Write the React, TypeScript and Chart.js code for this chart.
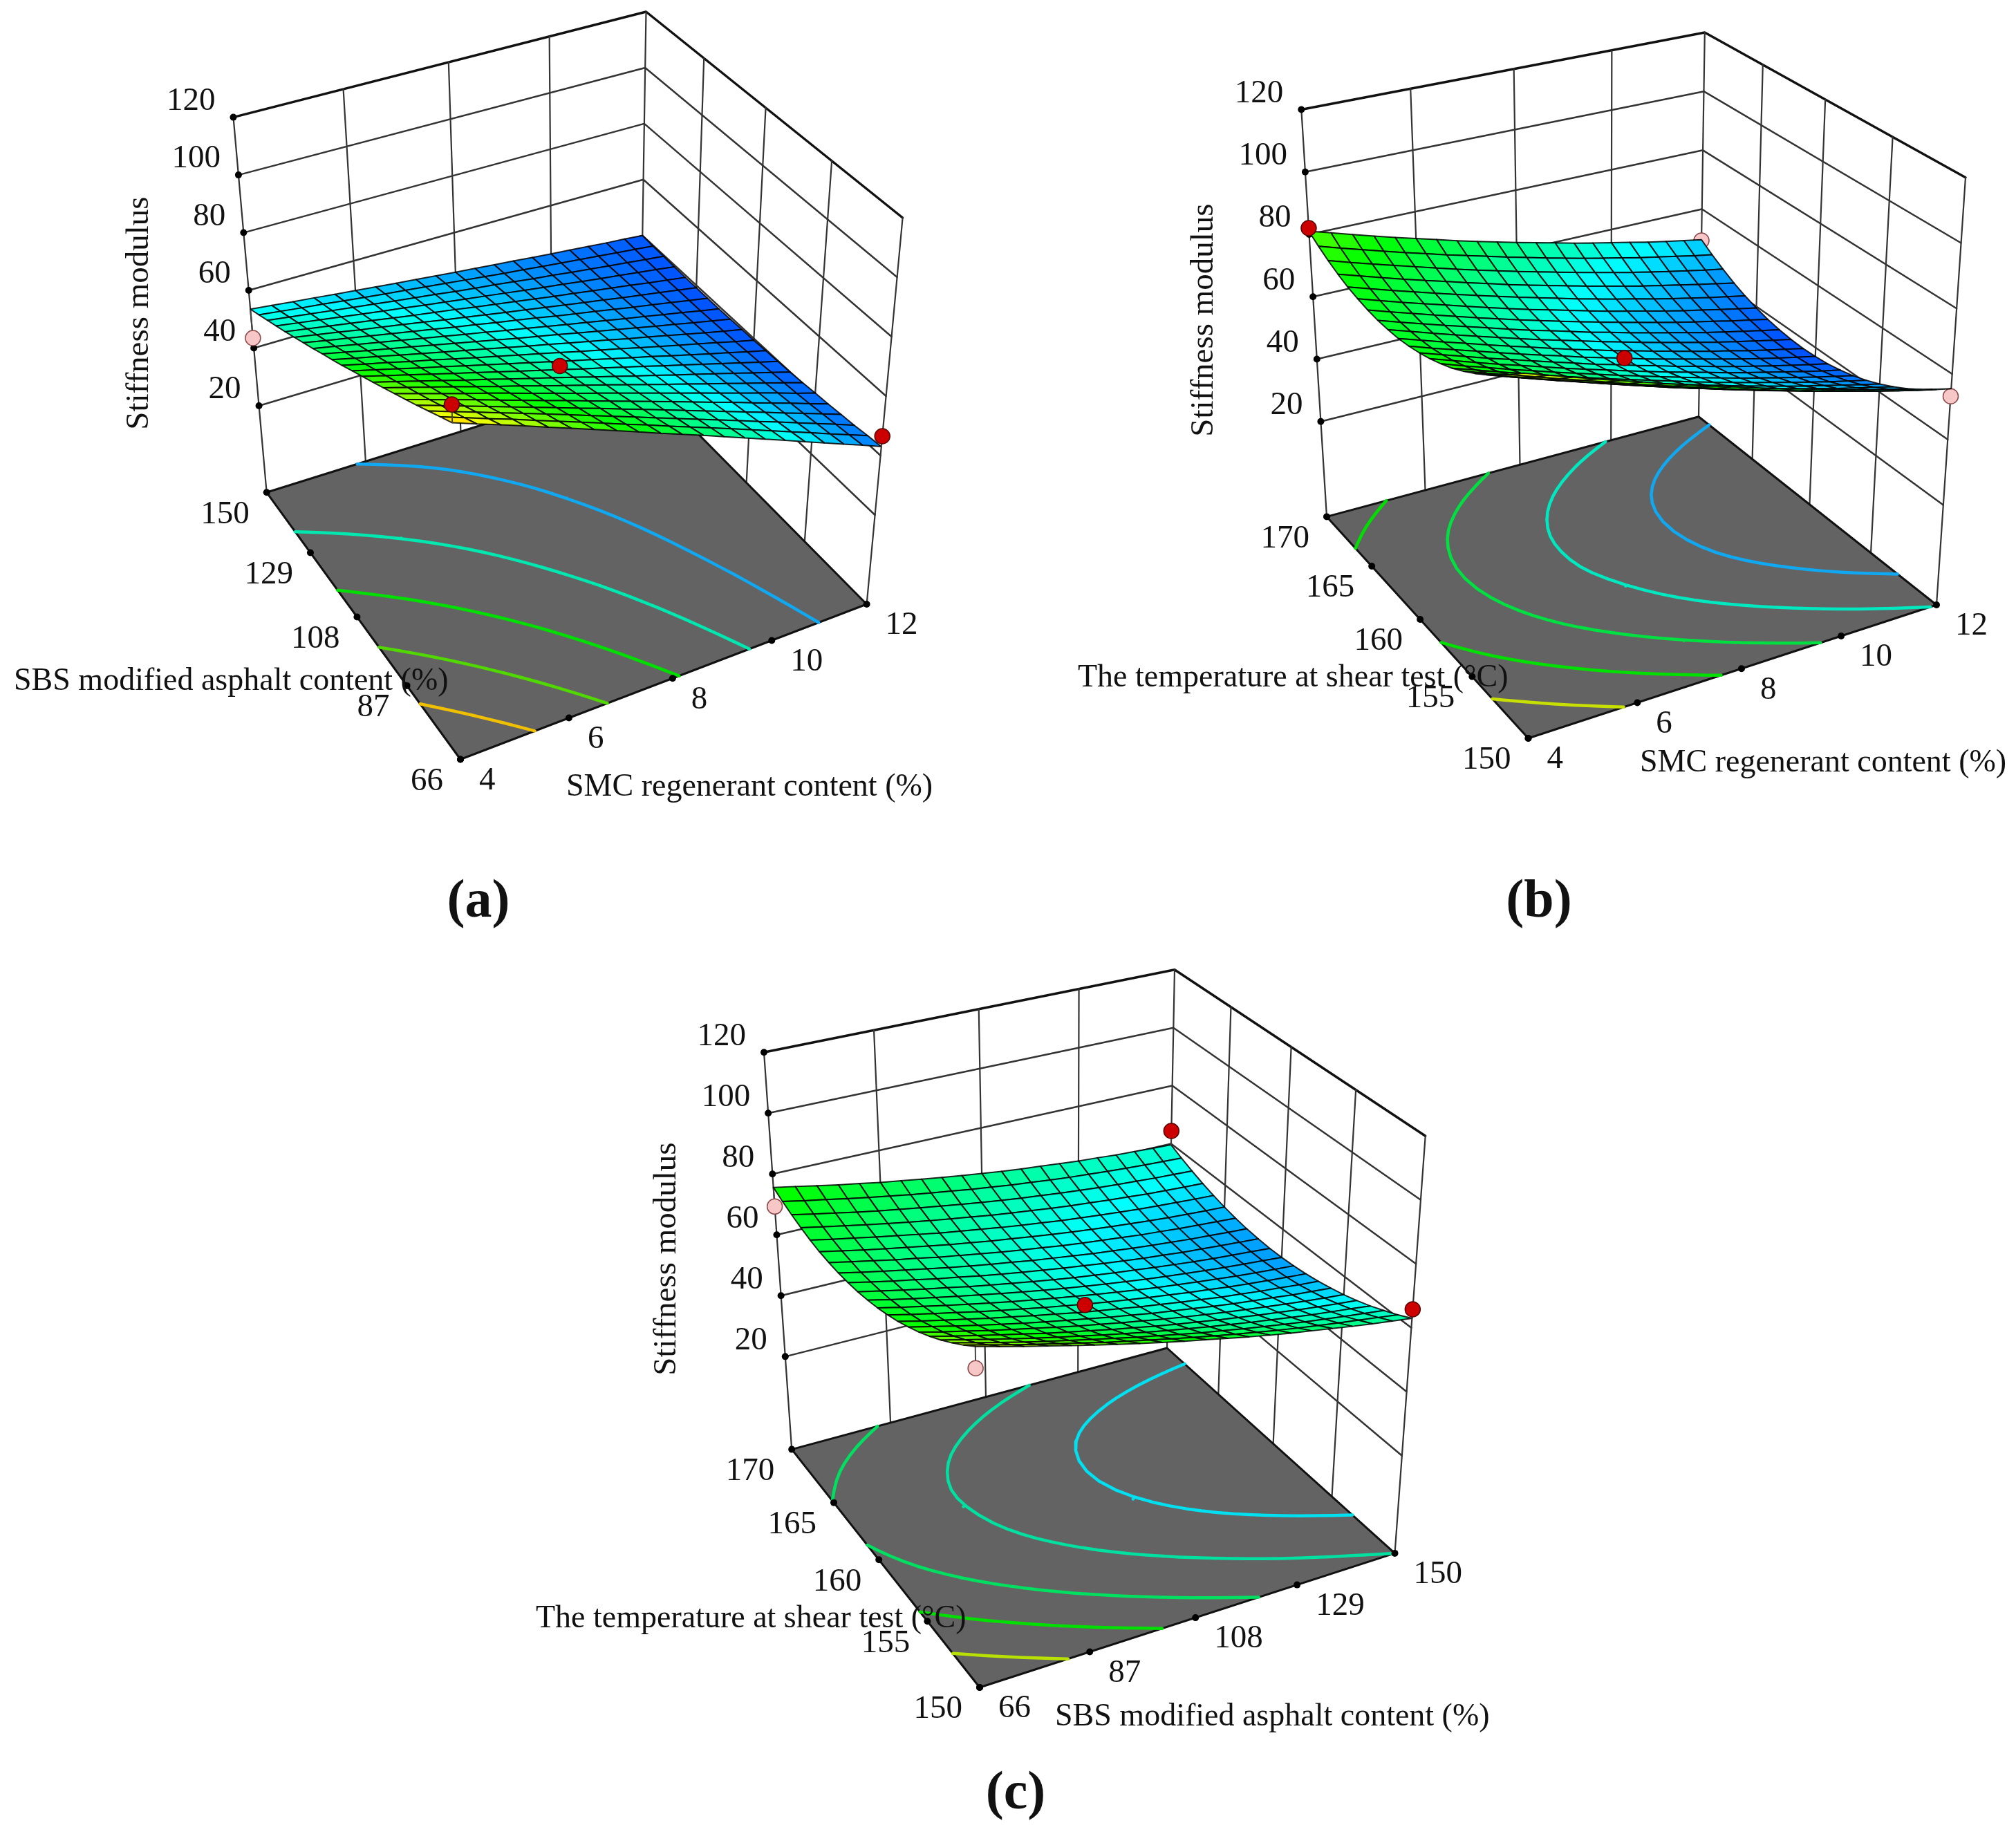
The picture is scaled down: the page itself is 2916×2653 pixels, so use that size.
import React, { useEffect, useRef } from "react";
import Chart from "chart.js/auto";

// ---------- axis ticks and labels ----------
const zTicks = [20, 40, 60, 80, 100, 120];
const smcTicks = [4, 6, 8, 10, 12];
const sbsTicks = [66, 87, 108, 129, 150];
const tempTicks = [150, 155, 160, 165, 170];
const zTitle = "Stiffness modulus";
const smcTitle = "SMC regenerant content (%)";
const sbsTitle = "SBS modified asphalt content (%)";
const tempTitle = "The temperature at shear test (°C)";

// ---------- surfaces: rows run along the depth factor, columns along the width factor ----------
const surfaceA = [
[100,97.0,94.1,91.2,88.2,85.3,82.4,79.5,76.6,73.7,70.9,68.1,65.2,62.4,59.6,56.8,54.0,51.2,48.5,45.8,43.0],
[97.3,94.4,91.5,88.8,85.9,83.1,80.3,77.5,74.7,72.0,69.2,66.5,63.8,61.1,58.4,55.7,53.0,50.4,47.7,45.1,42.5],
[94.6,91.8,89.1,86.4,83.7,81.0,78.3,75.6,72.9,70.3,67.6,65.0,62.4,59.8,57.2,54.6,52.1,49.5,47.0,44.5,41.9],
[91.9,89.3,86.6,84.0,81.4,78.8,76.3,73.7,71.2,68.6,66.1,63.6,61.1,58.6,56.1,53.6,51.2,48.7,46.3,43.9,41.5],
[89.3,86.8,84.3,81.8,79.3,76.8,74.3,71.9,69.4,67.0,64.6,62.2,59.8,57.4,55.0,52.7,50.3,48.0,45.7,43.3,41.0],
[86.8,84.4,81.9,79.5,77.2,74.8,72.4,70.1,67.7,65.4,63.1,60.8,58.5,56.2,54.0,51.7,49.5,47.3,45.1,42.8,40.7],
[84.3,82.0,79.7,77.4,75.1,72.8,70.6,68.3,66.1,63.9,61.7,59.5,57.3,55.1,53.0,50.8,48.7,46.6,44.5,42.4,40.3],
[81.8,79.6,77.4,75.2,73.0,70.9,68.7,66.6,64.5,62.4,60.3,58.2,56.1,54.1,52.0,50.0,48.0,46.0,44.0,42.0,40.0],
[79.4,77.3,75.2,73.1,71.0,69.0,66.9,64.9,62.9,60.9,58.9,57.0,55.0,53.1,51.1,49.2,47.3,45.4,43.5,41.6,39.8],
[77.0,75.0,73.0,71.0,69.1,67.1,65.2,63.3,61.4,59.5,57.6,55.8,53.9,52.1,50.3,48.4,46.6,44.8,43.1,41.3,39.6],
[74.6,72.7,70.9,69.0,67.2,65.3,63.5,61.7,59.9,58.2,56.4,54.6,52.9,51.2,49.4,47.7,46.0,44.4,42.7,41.0,39.4],
[72.3,70.5,68.8,67.0,65.3,63.6,61.9,60.2,58.5,56.8,55.2,53.5,51.9,50.3,48.6,47.1,45.5,43.9,42.3,40.8,39.3],
[70.1,68.4,66.7,65.1,63.5,61.9,60.3,58.7,57.1,55.5,54.0,52.5,50.9,49.4,47.9,46.4,44.9,43.5,42.0,40.6,39.2],
[67.8,66.3,64.7,63.2,61.7,60.2,58.7,57.2,55.8,54.3,52.9,51.4,50.0,48.6,47.2,45.8,44.5,43.1,41.8,40.4,39.1],
[65.7,64.2,62.8,61.4,60.0,58.6,57.2,55.8,54.5,53.1,51.8,50.5,49.1,47.8,46.6,45.3,44.0,42.8,41.6,40.3,39.1],
[63.5,62.2,60.9,59.5,58.3,57.0,55.7,54.4,53.2,51.9,50.7,49.5,48.3,47.1,45.9,44.8,43.6,42.5,41.4,40.3,39.2],
[61.4,60.2,59.0,57.8,56.6,55.4,54.2,53.1,52.0,50.8,49.7,48.6,47.5,46.4,45.4,44.3,43.3,42.3,41.2,40.2,39.2],
[59.4,58.3,57.2,56.1,55.0,53.9,52.9,51.8,50.8,49.8,48.8,47.8,46.8,45.8,44.9,43.9,43.0,42.1,41.2,40.3,39.4],
[57.4,56.4,55.4,54.4,53.4,52.5,51.5,50.6,49.7,48.7,47.8,47.0,46.1,45.2,44.4,43.5,42.7,41.9,41.1,40.3,39.6],
[55.4,54.5,53.6,52.8,51.9,51.0,50.2,49.4,48.6,47.8,47.0,46.2,45.4,44.7,43.9,43.2,42.5,41.8,41.1,40.4,39.7],
[53.5,52.7,51.9,51.2,50.4,49.7,48.9,48.2,47.5,46.8,46.1,45.5,44.8,44.2,43.5,42.9,42.3,41.7,41.1,40.6,40.0],
];
const surfaceB = [
[95.4,92.9,90.5,88.1,85.8,83.6,81.3,79.2,77.0,75.0,73.0,71.0,69.1,67.2,65.4,63.6,61.9,60.2,58.6,57.0,55.5],
[91.8,89.3,86.9,84.6,82.3,80.0,77.8,75.7,73.6,71.5,69.5,67.6,65.7,63.8,62.0,60.3,58.6,56.9,55.3,53.8,52.3],
[88.4,86.0,83.6,81.3,79.0,76.8,74.6,72.5,70.4,68.4,66.4,64.5,62.6,60.8,59.0,57.3,55.6,54.0,52.4,50.9,49.4],
[85.4,83.0,80.6,78.3,76.1,73.9,71.7,69.6,67.5,65.5,63.6,61.7,59.8,58.0,56.3,54.6,52.9,51.3,49.7,48.2,46.8],
[82.7,80.3,77.9,75.7,73.4,71.2,69.1,67.0,65.0,63.0,61.1,59.2,57.3,55.6,53.8,52.1,50.5,48.9,47.4,45.9,44.5],
[80.3,77.9,75.6,73.3,71.1,68.9,66.8,64.8,62.7,60.8,58.9,57.0,55.2,53.4,51.7,50.0,48.4,46.9,45.4,43.9,42.5],
[78.1,75.8,73.5,71.3,69.1,66.9,64.8,62.8,60.8,58.9,57.0,55.1,53.3,51.6,49.9,48.3,46.7,45.1,43.6,42.2,40.8],
[76.4,74.0,71.8,69.5,67.4,65.2,63.2,61.2,59.2,57.3,55.4,53.6,51.8,50.1,48.4,46.8,45.2,43.7,42.2,40.8,39.4],
[74.9,72.6,70.3,68.1,66.0,63.9,61.8,59.8,57.9,56.0,54.1,52.3,50.6,48.9,47.2,45.6,44.1,42.6,41.1,39.7,38.4],
[73.7,71.4,69.2,67.0,64.9,62.8,60.8,58.8,56.8,55.0,53.1,51.4,49.6,48.0,46.3,44.7,43.2,41.7,40.3,38.9,37.6],
[72.8,70.5,68.3,66.2,64.1,62.0,60.0,58.1,56.1,54.3,52.5,50.7,49.0,47.4,45.8,44.2,42.7,41.2,39.8,38.5,37.2],
[72.2,70.0,67.8,65.7,63.6,61.6,59.6,57.6,55.7,53.9,52.1,50.4,48.7,47.1,45.5,43.9,42.5,41.0,39.6,38.3,37.0],
[72.0,69.8,67.6,65.5,63.4,61.4,59.4,57.5,55.7,53.9,52.1,50.4,48.7,47.1,45.5,44.0,42.5,41.1,39.8,38.5,37.2],
[72.0,69.8,67.7,65.6,63.6,61.6,59.6,57.7,55.9,54.1,52.3,50.7,49.0,47.4,45.9,44.4,42.9,41.5,40.2,38.9,37.7],
[72.4,70.2,68.1,66.0,64.0,62.0,60.1,58.2,56.4,54.6,52.9,51.2,49.6,48.0,46.5,45.0,43.6,42.3,40.9,39.7,38.4],
[73.1,70.9,68.8,66.8,64.8,62.8,60.9,59.0,57.2,55.5,53.8,52.1,50.5,49.0,47.5,46.0,44.6,43.3,42.0,40.7,39.5],
[74.0,71.9,69.8,67.8,65.8,63.9,62.0,60.2,58.4,56.7,55.0,53.3,51.8,50.2,48.8,47.3,45.9,44.6,43.3,42.1,40.9],
[75.3,73.2,71.1,69.1,67.2,65.3,63.4,61.6,59.8,58.1,56.5,54.9,53.3,51.8,50.3,48.9,47.6,46.3,45.0,43.8,42.6],
[76.9,74.8,72.8,70.8,68.9,67.0,65.1,63.3,61.6,59.9,58.3,56.7,55.2,53.7,52.2,50.8,49.5,48.2,47.0,45.8,44.7],
[78.8,76.7,74.7,72.7,70.8,69.0,67.1,65.4,63.7,62.0,60.4,58.8,57.3,55.8,54.4,53.1,51.7,50.5,49.3,48.1,47.0],
[81.0,79.0,77.0,75.0,73.1,71.3,69.5,67.7,66.0,64.4,62.8,61.3,59.8,58.3,56.9,55.6,54.3,53.0,51.8,50.7,49.6],
];
const surfaceC = [
[91.5,89.5,87.6,85.8,84.0,82.2,80.5,78.9,77.3,75.8,74.4,73.0,71.6,70.3,69.1,68.0,66.9,65.8,64.8,63.9,63.0],
[88.3,86.4,84.5,82.7,81.0,79.3,77.6,76.1,74.6,73.1,71.7,70.3,69.0,67.8,66.6,65.5,64.5,63.5,62.6,61.7,60.8],
[85.4,83.5,81.7,79.9,78.2,76.6,75.0,73.5,72.0,70.6,69.2,67.9,66.7,65.5,64.4,63.3,62.3,61.4,60.5,59.7,58.9],
[82.7,80.9,79.1,77.4,75.7,74.1,72.6,71.1,69.7,68.3,67.0,65.8,64.6,63.5,62.4,61.4,60.4,59.5,58.7,57.9,57.1],
[80.3,78.5,76.8,75.1,73.5,71.9,70.4,69.0,67.6,66.3,65.0,63.8,62.7,61.6,60.6,59.6,58.7,57.8,57.0,56.3,55.6],
[78.1,76.3,74.7,73.0,71.5,70.0,68.5,67.1,65.8,64.5,63.3,62.1,61.0,60.0,59.0,58.1,57.2,56.4,55.6,54.9,54.3],
[76.2,74.5,72.8,71.2,69.7,68.2,66.8,65.5,64.2,62.9,61.8,60.6,59.6,58.6,57.6,56.7,55.9,55.2,54.4,53.8,53.2],
[74.5,72.8,71.2,69.7,68.2,66.8,65.4,64.1,62.8,61.6,60.5,59.4,58.4,57.4,56.5,55.6,54.9,54.1,53.5,52.8,52.3],
[73.1,71.4,69.9,68.4,66.9,65.5,64.2,62.9,61.7,60.5,59.4,58.4,57.4,56.5,55.6,54.8,54.0,53.3,52.7,52.1,51.6],
[71.9,70.3,68.8,67.3,65.9,64.5,63.2,62.0,60.8,59.7,58.6,57.6,56.6,55.7,54.9,54.1,53.4,52.7,52.1,51.6,51.1],
[71.0,69.4,67.9,66.5,65.1,63.8,62.5,61.3,60.1,59.0,58.0,57.0,56.1,55.2,54.4,53.7,53.0,52.4,51.8,51.3,50.8],
[70.3,68.8,67.3,65.9,64.6,63.2,62.0,60.8,59.7,58.6,57.6,56.7,55.8,55.0,54.2,53.5,52.8,52.2,51.7,51.2,50.7],
[69.9,68.4,66.9,65.6,64.2,63.0,61.7,60.6,59.5,58.5,57.5,56.6,55.7,54.9,54.1,53.5,52.8,52.3,51.8,51.3,50.9],
[69.7,68.2,66.8,65.5,64.2,62.9,61.7,60.6,59.6,58.5,57.6,56.7,55.8,55.1,54.3,53.7,53.1,52.5,52.1,51.6,51.2],
[69.8,68.4,67.0,65.6,64.4,63.1,62.0,60.9,59.8,58.8,57.9,57.0,56.2,55.5,54.8,54.1,53.6,53.0,52.6,52.2,51.8],
[70.1,68.7,67.3,66.0,64.8,63.6,62.4,61.4,60.3,59.4,58.5,57.6,56.8,56.1,55.4,54.8,54.2,53.7,53.3,52.9,52.6],
[70.7,69.3,68.0,66.7,65.5,64.3,63.1,62.1,61.1,60.1,59.2,58.4,57.6,56.9,56.3,55.7,55.1,54.7,54.3,53.9,53.6],
[71.6,70.2,68.9,67.6,66.4,65.2,64.1,63.1,62.1,61.1,60.3,59.5,58.7,58.0,57.4,56.8,56.3,55.8,55.4,55.1,54.8],
[72.7,71.3,70.0,68.7,67.5,66.4,65.3,64.3,63.3,62.4,61.5,60.7,60.0,59.3,58.7,58.1,57.6,57.2,56.8,56.5,56.2],
[74.0,72.6,71.4,70.1,68.9,67.8,66.7,65.7,64.8,63.8,63.0,62.2,61.5,60.8,60.2,59.7,59.2,58.8,58.4,58.1,57.8],
[75.6,74.3,73.0,71.7,70.6,69.4,68.4,67.4,66.4,65.5,64.7,63.9,63.2,62.6,62.0,61.4,61.0,60.5,60.2,59.9,59.6],
];

// contour levels drawn on the floor
const levelsA = [90, 80, 70, 60, 50];
const levelsB = [85, 75, 65.5, 56, 47];
const levelsC = [84, 76.7, 70.2, 63, 56.6];

// design points: [x value, depth value, response]
const pointsAboveA = [[8, 108, 51.8], [4, 66, 106], [12, 66, 46.5]];
const pointsBelowA = [[4, 150, 43.5]];
const pointsAboveB = [[4, 170, 82], [8, 160, 52.6]];
const pointsBelowB = [[12, 170, 49.3], [12, 150, 53.2]];
const pointsAboveC = [[150, 170, 64.4], [150, 150, 65.8], [108, 160, 52]];
const pointsBelowC = [[66, 170, 69.3], [66, 150, 85]];

// ---------- layout and styles ----------
const W = 2916, H = 2653;
const SERIF = '"Liberation Serif"';
const contourColorsA = ["#f0c000", "#50d800", "#00e000", "#00e8b0", "#10a8f0"];
const contourColorsB = ["#c8e000", "#00e000", "#00e040", "#00e8c0", "#10a8f0"];
const contourColorsC = ["#b8e000", "#00e000", "#00e060", "#00e0a0", "#00e0f0"];

const panels = [
  {
    letter: "(a)", letterPos: [692, 1306],
    xTicks: smcTicks, yTicks: sbsTicks, surface: surfaceA, levels: levelsA, contourColors: contourColorsA,
    above: pointsAboveA, below: pointsBelowA,
    zFloor: -10, stops: [38, 54, 76, 96, 106],
    floor: [[666, 1098.5], [1253.6, 874], [926, 543], [385.7, 712.3]],
    top: [[652, 523], [1305.6, 315], [934.5, 17], [337.5, 169.6]],
    zTitlePos: [202, 453],
    yTitle: { text: sbsTitle, x: 20, y: 986, size: 46 },
    xTitle: { text: smcTitle, x: 819, y: 1139, size: 46 },
  },
  {
    letter: "(b)", letterPos: [2226, 1306],
    xTicks: smcTicks, yTicks: tempTicks, surface: surfaceB, levels: levelsB, contourColors: contourColorsB,
    above: pointsAboveB, below: pointsBelowB,
    zFloor: -10.5, stops: [36, 53, 74, 95, 112],
    floor: [[2210.5, 1068], [2801, 875], [2457, 602.7], [1919, 747.4]],
    top: [[2202, 417], [2843, 256.7], [2465.8, 47], [1882.3, 158.5]],
    zTitlePos: [1742, 463],
    yTitle: { text: tempTitle, x: 1559, y: 981, size: 46 },
    xTitle: { text: smcTitle, x: 2372, y: 1104, size: 46 },
  },
  {
    letter: "(c)", letterPos: [1469, 2596],
    xTicks: sbsTicks, yTicks: tempTicks, surface: surfaceC, levels: levelsC, contourColors: contourColorsC,
    above: pointsAboveC, below: pointsBelowC,
    zFloor: -10.5, stops: [46, 56, 74, 92, 110],
    floor: [[1417, 2441], [2017.5, 2246.9], [1688, 1950], [1145.2, 2096.6]],
    top: [[1409, 1810], [2061.7, 1643.3], [1699, 1402.8], [1105, 1522.2]],
    zTitlePos: [965, 1821],
    yTitle: { text: tempTitle, x: 775, y: 2342, size: 46 },
    xTitle: { text: sbsTitle, x: 1526, y: 2484, size: 46 },
  },
];

// ---------- 3D helpers ----------
function homography(q: number[][]) {
  const [[x0, y0], [x1, y1], [x2, y2], [x3, y3]] = q;
  const dx1 = x1 - x2, dx2 = x3 - x2, sx = x0 - x1 + x2 - x3;
  const dy1 = y1 - y2, dy2 = y3 - y2, sy = y0 - y1 + y2 - y3;
  const den = dx1 * dy2 - dx2 * dy1;
  const g = (sx * dy2 - dx2 * sy) / den;
  const h = (dx1 * sy - sx * dy1) / den;
  const a = x1 - x0 + g * x1, b = x3 - x0 + h * x3;
  const d = y1 - y0 + g * y1, e = y3 - y0 + h * y3;
  return (u: number, v: number) => {
    const w = g * u + h * v + 1;
    return [(a * u + b * v + x0) / w, (d * u + e * v + y0) / w];
  };
}

function makeProjector(p: any) {
  const hf = homography(p.floor), ht = homography(p.top);
  return (u: number, v: number, z: number) => {
    const f = hf(u, v), t = ht(u, v);
    const w = (z - p.zFloor) / (120 - p.zFloor);
    return { x: f[0] + (t[0] - f[0]) * w, y: f[1] + (t[1] - f[1]) * w };
  };
}

function heatColor(z: number, stops: number[]) {
  const anchors = [[0, 64, 255], [0, 255, 255], [0, 255, 0], [255, 255, 0], [255, 40, 0]];
  if (z <= stops[0]) return `rgb(${anchors[0].join(",")})`;
  for (let k = 0; k < stops.length - 1; k++) {
    if (z <= stops[k + 1]) {
      const f = (z - stops[k]) / (stops[k + 1] - stops[k]);
      const c = anchors[k].map((a, n) => Math.round(a + (anchors[k + 1][n] - a) * f));
      return `rgb(${c.join(",")})`;
    }
  }
  return `rgb(${anchors[4].join(",")})`;
}

// iso-lines of a surface table: cell crossings, chained into runs and lightly smoothed
function contourPaths(grid: number[][], level: number) {
  const n = grid.length - 1;
  const segs: number[][][] = [];
  const cross = (a: number, b: number) => (level - a) / (b - a);
  for (let j = 0; j < n; j++) {
    for (let i = 0; i < n; i++) {
      const a = grid[j][i], b = grid[j][i + 1], c = grid[j + 1][i + 1], d = grid[j + 1][i];
      const pts: number[][] = [];
      if ((a < level) !== (b < level)) pts.push([(i + cross(a, b)) / n, j / n]);
      if ((b < level) !== (c < level)) pts.push([(i + 1) / n, (j + cross(b, c)) / n]);
      if ((d < level) !== (c < level)) pts.push([(i + cross(d, c)) / n, (j + 1) / n]);
      if ((a < level) !== (d < level)) pts.push([i / n, (j + cross(a, d)) / n]);
      if (pts.length === 2) segs.push(pts);
      if (pts.length === 4) { segs.push([pts[0], pts[1]]); segs.push([pts[2], pts[3]]); }
    }
  }
  const key = (q: number[]) => `${q[0].toFixed(5)},${q[1].toFixed(5)}`;
  const used = new Array(segs.length).fill(false);
  const extend = (path: number[][]) => {
    for (let found = true; found; ) {
      found = false;
      const tail = key(path[path.length - 1]);
      for (let k = 0; k < segs.length; k++) {
        if (used[k]) continue;
        if (key(segs[k][0]) === tail) { path.push(segs[k][1]); used[k] = true; found = true; break; }
        if (key(segs[k][1]) === tail) { path.push(segs[k][0]); used[k] = true; found = true; break; }
      }
    }
    return path;
  };
  const paths: number[][][] = [];
  for (let k = 0; k < segs.length; k++) {
    if (used[k]) continue;
    used[k] = true;
    let path = extend([segs[k][0], segs[k][1]]);
    path = extend(path.reverse());
    for (let pass = 0; pass < 4; pass++) {
      path = path.map((q, m) =>
        m === 0 || m === path.length - 1
          ? q
          : [(path[m - 1][0] + 2 * q[0] + path[m + 1][0]) / 4, (path[m - 1][1] + 2 * q[1] + path[m + 1][1]) / 4]
      );
    }
    paths.push(path);
  }
  return paths;
}

function lineSet(data: any[], color: string, width: number, extra: any = {}) {
  return { data, showLine: true, borderColor: color, borderWidth: width, pointRadius: 0, tension: 0, fill: false, borderCapStyle: "round", borderJoinStyle: "round", spanGaps: false, ...extra };
}

function buildPanel(p: any, sets: any[], labels: any[]) {
  const project = makeProjector(p);
  const xMin = p.xTicks[0], xMax = p.xTicks[p.xTicks.length - 1];
  const yMin = p.yTicks[0], yMax = p.yTicks[p.yTicks.length - 1];
  const U = (x: number) => (x - xMin) / (xMax - xMin);
  const V = (y: number) => (y - yMin) / (yMax - yMin);
  const zf = p.zFloor;
  const wall = "#333333";

  // back walls
  for (const z of zTicks) {
    const edge = z === 120;
    sets.push(lineSet([project(0, 1, z), project(1, 1, z), project(1, 0, z)], edge ? "#111" : wall, edge ? 3.5 : 2.5));
  }
  for (const x of p.xTicks) sets.push(lineSet([project(U(x), 1, zf), project(U(x), 1, 120)], wall, 2.2));
  for (const y of p.yTicks) if (y !== yMax) sets.push(lineSet([project(1, V(y), zf), project(1, V(y), 120)], wall, 2.2));

  // floor and contours
  const fl = [project(0, 0, zf), project(1, 0, zf), project(1, 1, zf), project(0, 1, zf), project(0, 0, zf)];
  sets.push(lineSet(fl, "#111", 3, { polyFill: "#636363" }));
  p.levels.forEach((lv: number, k: number) => {
    for (const path of contourPaths(p.surface, lv)) {
      sets.push(lineSet(path.map((q) => project(q[0], q[1], zf)), p.contourColors[k], 4.5));
    }
  });

  // tick marks
  const tickDots = [
    ...zTicks.map((z) => project(0, 1, z)),
    ...p.xTicks.map((x: number) => project(U(x), 0, zf)),
    ...p.yTicks.map((y: number) => project(0, V(y), zf)),
  ];
  sets.push({ data: tickDots, showLine: false, pointRadius: 5, pointBackgroundColor: "#000", pointBorderWidth: 0 });

  const grid = p.surface;
  const n = grid.length - 1;
  const surfaceAt = (u: number, v: number) => grid[Math.round(v * n)][Math.round(u * n)];
  const dotsOf = (list: number[][], fill: string, stroke: string, isAbove: boolean) => {
    list.forEach(([x, y, z]) => {
      const u = U(x), v = V(y), s = surfaceAt(u, v);
      if (isAbove ? z > s : z < s) sets.push(lineSet([project(u, v, z), project(u, v, s)], "#444", 2));
    });
    sets.push({
      data: list.map(([x, y, z]) => project(U(x), V(y), z)), showLine: false,
      pointRadius: 11, pointBackgroundColor: fill, pointBorderColor: stroke, pointBorderWidth: 1.5,
    });
  };

  // design points under the surface
  dotsOf(p.below, "#f7c6c6", "#8a4a4a", false);

  // surface mesh, far cells first
  for (let j = n - 1; j >= 0; j--) {
    for (let i = n - 1; i >= 0; i--) {
      const a = grid[j][i], b = grid[j][i + 1], c = grid[j + 1][i + 1], d = grid[j + 1][i];
      const poly = [
        project(i / n, j / n, a), project((i + 1) / n, j / n, b),
        project((i + 1) / n, (j + 1) / n, c), project(i / n, (j + 1) / n, d), project(i / n, j / n, a),
      ];
      sets.push(lineSet(poly, "rgba(0,0,0,0.85)", 2, { polyFill: heatColor((a + b + c + d) / 4, p.stops), borderCapStyle: "butt" }));
    }
  }

  // design points above the surface
  dotsOf(p.above, "#cc0000", "#5a0000", true);

  // texts
  const tickFont = `47px ${SERIF}`;
  for (const z of zTicks) {
    const q = project(0, 1, z);
    labels.push({ text: String(z), x: q.x - 26, y: q.y - 23, font: tickFont, align: "right" });
  }
  for (const y of p.yTicks) {
    const q = project(0, V(y), zf);
    labels.push({ text: String(y), x: q.x - 25, y: q.y + 32, font: tickFont, align: "right" });
  }
  for (const x of p.xTicks) {
    const q = project(U(x), 0, zf);
    labels.push({ text: String(x), x: q.x + 27, y: q.y + 31, font: tickFont, align: "left" });
  }
  labels.push({ text: zTitle, x: p.zTitlePos[0], y: p.zTitlePos[1], font: `47px ${SERIF}`, align: "center", rot: -Math.PI / 2 });
  for (const t of [p.yTitle, p.xTitle]) {
    labels.push({ text: t.text, x: t.x, y: t.y, font: `${t.size}px ${SERIF}`, align: "left" });
  }
  labels.push({ text: p.letter, x: p.letterPos[0], y: p.letterPos[1], font: `bold 78px ${SERIF}`, align: "center" });
}

export default function App() {
  const ref = useRef<HTMLCanvasElement | null>(null);
  useEffect(() => {
    const sets: any[] = [];
    const labels: any[] = [];
    panels.forEach((p) => buildPanel(p, sets, labels));
    sets.reverse(); // Chart.js paints the last dataset first

    const painter = {
      id: "painter",
      beforeDatasetDraw(chart: any, args: any) {
        const ds = chart.data.datasets[args.index];
        if (!ds.polyFill) return;
        const pts = args.meta.data;
        const ctx = chart.ctx;
        ctx.save();
        ctx.beginPath();
        pts.forEach((pt: any, k: number) => (k ? ctx.lineTo(pt.x, pt.y) : ctx.moveTo(pt.x, pt.y)));
        ctx.closePath();
        ctx.fillStyle = ds.polyFill;
        ctx.fill();
        ctx.restore();
      },
      afterDatasetsDraw(chart: any) {
        const ctx = chart.ctx;
        const { x: sx, y: sy } = chart.scales;
        ctx.save();
        ctx.fillStyle = "#111";
        ctx.textBaseline = "middle";
        for (const l of labels) {
          ctx.save();
          ctx.translate(sx.getPixelForValue(l.x), sy.getPixelForValue(l.y));
          if (l.rot) ctx.rotate(l.rot);
          ctx.font = l.font;
          ctx.textAlign = l.align;
          ctx.fillText(l.text, 0, 0);
          ctx.restore();
        }
        ctx.restore();
      },
    };

    const chart = new Chart(ref.current as HTMLCanvasElement, {
      type: "scatter",
      data: { datasets: sets },
      options: {
        animation: false,
        responsive: false,
        maintainAspectRatio: false,
        devicePixelRatio: 1,
        events: [],
        layout: { padding: 0, autoPadding: false },
        plugins: { legend: { display: false }, tooltip: { enabled: false }, title: { display: false } },
        scales: {
          x: { type: "linear", min: 0, max: W, display: false },
          y: { type: "linear", min: 0, max: H, reverse: true, display: false },
        },
      },
      plugins: [painter],
    } as any);
    return () => chart.destroy();
  }, []);
  return (
    <canvas
      ref={ref}
      width={W}
      height={H}
      style={{ position: "absolute", left: 0, top: 0, width: W, height: H, display: "block", background: "#fff" }}
    />
  );
}
